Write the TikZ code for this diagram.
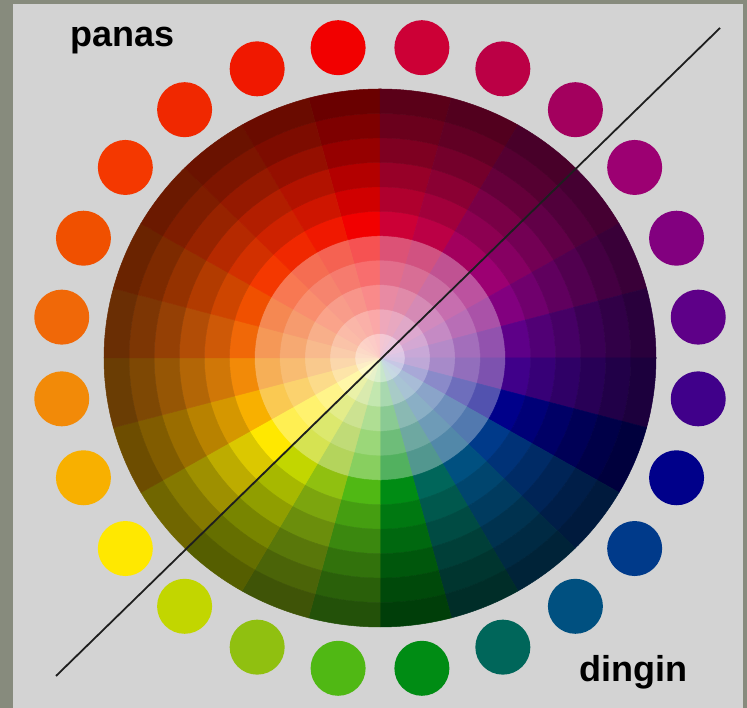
\documentclass[tikz,border=0pt]{standalone}
\usepackage{fontspec}
\setsansfont{Liberation Sans}
\usepackage{tikz}
\usetikzlibrary{calc}
\definecolor{framegray}{HTML}{878B7D}
\definecolor{panel}    {HTML}{D3D3D3}
\definecolor{ink}      {HTML}{1E1E1E}
% --- the 24 hues, clockwise from the top
\definecolor{h1} {HTML}{F20000}
\definecolor{h2} {HTML}{CC0036}
\definecolor{h3} {HTML}{BB0045}
\definecolor{h4} {HTML}{A3005E}
\definecolor{h5} {HTML}{9C0072}
\definecolor{h6} {HTML}{82007F}
\definecolor{h7} {HTML}{5E0088}
\definecolor{h8} {HTML}{40008A}
\definecolor{h9} {HTML}{00008A}
\definecolor{h10}{HTML}{003A8A}
\definecolor{h11}{HTML}{005080}
\definecolor{h12}{HTML}{00665A}
\definecolor{h13}{HTML}{008C14}
\definecolor{h14}{HTML}{50B814}
\definecolor{h15}{HTML}{90C010}
\definecolor{h16}{HTML}{C2D600}
\definecolor{h17}{HTML}{FFE800}
\definecolor{h18}{HTML}{F8B000}
\definecolor{h19}{HTML}{F28A08}
\definecolor{h20}{HTML}{F06808}
\definecolor{h21}{HTML}{F05000}
\definecolor{h22}{HTML}{F43800}
\definecolor{h23}{HTML}{F02800}
\definecolor{h24}{HTML}{F01800}
\tikzset{
  dot/.style  = {circle, minimum size=55pt, inner sep=0pt},
  tag/.style  = {font=\fontsize{36}{36}\selectfont\sffamily\bfseries, text=black,
                 inner sep=0pt, anchor=base},
  axis/.style = {draw=ink, line width=1.8pt},
}
\begin{document}
\begin{tikzpicture}[x=1pt,y=1pt]
  \useasboundingbox (0,0) rectangle (747,708);
  \fill[framegray] (0,0) rectangle (747,708);
  \fill[panel] (13,0) rectangle (743,704);
  \coordinate (c) at (380,350);
  \begin{scope}[shift={(c)}]
    % wheel: 24 sectors, 11 rings (tints inside, shades outside)
    \foreach \i in {1,...,24}{
      \pgfmathsetmacro{\lo}{105-15*\i}
      \pgfmathsetmacro{\hi}{120-15*\i}
      \foreach \k/\mix/\p in {1/white/22,2/white/34,3/white/46,4/white/57,5/white/68,
                              6/black/100,7/black/86,8/black/74,9/black/62,10/black/52,11/black/44}{
        \pgfmathsetmacro{\rxo}{\k*276/11}
        \pgfmathsetmacro{\ryo}{\k*269/11}
        \pgfmathsetmacro{\rxi}{(\k-1)*276/11+0.01}
        \pgfmathsetmacro{\ryi}{(\k-1)*269/11+0.01}
        \colorlet{tile}{h\i!\p!\mix}
        \fill[fill=tile, draw=tile, line width=0.5pt]
          ({\rxo*cos(\lo)},{\ryo*sin(\lo)})
          arc[start angle=\lo, end angle=\hi, x radius=\rxo, y radius=\ryo]
          -- ({\rxi*cos(\hi)},{\ryi*sin(\hi)})
          arc[start angle=\hi, end angle=\lo, x radius=\rxi, y radius=\ryi]
          -- cycle;
      }
    }
    % ring of dots
    \foreach \i in {1,...,24}
      \node[dot, fill=h\i] (d\i) at ({321*cos(112.5-15*\i)},{313*sin(112.5-15*\i)}) {};
  \end{scope}
  \coordinate (sw) at (56,32);
  \coordinate (ne) at (720,680);
  \draw[axis] (sw) -- (ne);
  \node[tag] (warm) at (122.5,661.5) {panas};
  \node[tag] (cool) at (633.3,26.3) {dingin};
\end{tikzpicture}
\end{document}
